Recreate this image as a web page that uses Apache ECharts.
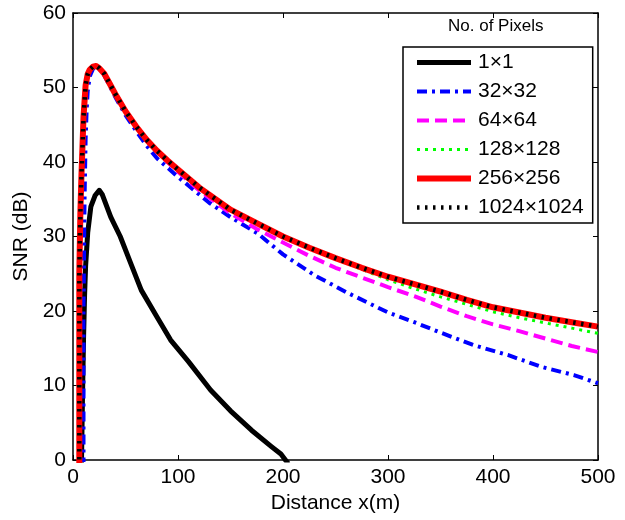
<!DOCTYPE html>
<html>
<head>
<meta charset="utf-8">
<script src="https://cdn.jsdelivr.net/npm/echarts@6/dist/echarts.min.js"></script>
<style>html,body{margin:0;padding:0;background:#fff}#c{width:625px;height:520px}</style>
</head>
<body>
<div id="c"></div>
<script>
// ---- data ----
const seriesNames = ['1\u00d71', '32\u00d732', '64\u00d764', '128\u00d7128', '256\u00d7256', '1024\u00d71024'];
const xTicks = [0, 100, 200, 300, 400, 500];
const yTicks = [0, 10, 20, 30, 40, 50, 60];

const x1 = [8, 9, 10, 11, 12, 14, 17, 21, 25, 28, 36, 45, 55, 65, 80, 93, 110, 131, 150, 170, 189, 198, 205];
const y1 = [-1, 8, 16, 22, 26, 30.5, 34, 35.5, 36.2, 35.6, 32.6, 30, 26.4, 22.8, 19.2, 16.1, 13.2, 9.4, 6.6, 4, 1.8, 0.8, -0.5];

const x32 = [10, 10, 11, 12, 13, 14, 16, 19, 22, 25, 30, 40, 50, 60, 70, 80, 100, 130, 150, 176, 200, 230, 262, 300, 325, 350, 382, 414, 446, 477, 500];
const y32 = [-1, 20, 35, 43, 47, 49.5, 51.5, 52.5, 52.8, 52.5, 51.6, 48.8, 46.3, 44.2, 42.2, 40.5, 38.0, 34.5, 32.6, 30.4, 27.6, 24.8, 22.4, 19.8, 18.5, 17.1, 15.4, 14.1, 12.5, 11.4, 10.3];

const x64 = [6, 6, 7, 8, 9, 10, 12, 14, 16, 19, 22, 25, 30, 35, 40, 50, 60, 70, 80, 90, 100, 120, 150, 175, 200, 225, 250, 275, 300, 325, 350, 375, 400, 425, 450, 475, 500];
const y64 = [-1, 25, 33, 38, 42, 46, 50.3, 51.8, 52.4, 52.8, 52.9, 52.6, 51.8, 50.5, 49.2, 46.8, 44.8, 43, 41.4, 40, 38.7, 36.2, 33.1, 31, 29.2, 27.4, 25.8, 24.5, 23.2, 22.0, 20.6, 19.3, 18.2, 17.3, 16.3, 15.3, 14.5];

const x128 = [6, 6, 7, 8, 9, 10, 12, 14, 16, 19, 22, 25, 30, 35, 40, 50, 60, 70, 80, 90, 100, 120, 150, 175, 200, 225, 250, 275, 300, 325, 350, 375, 400, 425, 450, 475, 500];
const y128 = [-1, 25, 33, 38, 42, 46, 50.3, 51.8, 52.4, 52.8, 52.9, 52.6, 51.8, 50.5, 49.2, 46.8, 44.8, 43, 41.5, 40.2, 39, 36.6, 33.6, 31.8, 30, 28.5, 27.0, 25.6, 24.2, 23.0, 21.9, 20.9, 19.9, 19.1, 18.4, 17.7, 17.0];

const x256 = [6, 6, 7, 8, 9, 10, 12, 14, 16, 19, 22, 25, 30, 35, 40, 50, 60, 70, 80, 90, 100, 120, 150, 175, 200, 225, 250, 275, 300, 325, 350, 375, 400, 425, 450, 475, 500];
const y256 = [-1, 25, 33, 38, 42, 46, 50.3, 51.8, 52.4, 52.8, 52.9, 52.6, 51.8, 50.5, 49.2, 46.8, 44.8, 43, 41.5, 40.2, 39, 36.6, 33.6, 31.8, 30, 28.5, 27.1, 25.8, 24.6, 23.6, 22.6, 21.5, 20.5, 19.8, 19.1, 18.5, 17.9];

const x1024 = x256;
const y1024 = y256;

// ---- chart ----
const FONT = '"Liberation Sans", Arial, Helvetica, sans-serif';
const zip = (xs, ys) => xs.map((x, i) => [x, ys[i]]);

const styles = [
  { color: '#000000', width: 5, type: 'solid' },
  { color: '#0000ff', width: 4, type: [10, 5, 3, 5] },
  { color: '#ff00ff', width: 4, type: [12, 6] },
  { color: '#00ff00', width: 3, type: [3, 5] },
  { color: '#ff0000', width: 6, type: 'solid' },
  { color: '#000000', width: 4.5, type: [2.5, 5.5] }
];
const dataSets = [zip(x1, y1), zip(x32, y32), zip(x64, y64), zip(x128, y128), zip(x256, y256), zip(x1024, y1024)];

const axisCommon = {
  axisLine: { show: true, onZero: false, lineStyle: { color: '#000', width: 1.5 } },
  axisTick: { show: true, inside: true, length: 5, lineStyle: { color: '#000', width: 1 } },
  splitLine: { show: false }
};

const chart = echarts.init(document.getElementById('c'), null, { renderer: 'canvas' });
chart.setOption({
  backgroundColor: '#fff',
  animation: false,
  textStyle: { fontFamily: FONT },
  grid: { left: 73, right: 27, top: 13, bottom: 60, containLabel: false },
  xAxis: [
    Object.assign({
      type: 'value', min: xTicks[0], max: xTicks[xTicks.length - 1], interval: 100,
      name: 'Distance x(m)', nameLocation: 'middle', nameGap: 29,
      nameTextStyle: { fontSize: 21, color: '#000', fontFamily: FONT },
      axisLabel: { fontSize: 21, color: '#000', margin: 7, fontFamily: FONT }
    }, axisCommon),
    Object.assign({
      type: 'value', position: 'top', min: xTicks[0], max: xTicks[xTicks.length - 1], interval: 100,
      axisLabel: { show: false }
    }, axisCommon)
  ],
  yAxis: [
    Object.assign({
      type: 'value', min: yTicks[0], max: yTicks[yTicks.length - 1], interval: 10,
      name: 'SNR (dB)', nameLocation: 'middle', nameGap: 38,
      nameTextStyle: { fontSize: 21, color: '#000', fontFamily: FONT },
      axisLabel: { fontSize: 21, color: '#000', margin: 7, fontFamily: FONT }
    }, axisCommon),
    Object.assign({
      type: 'value', position: 'right', min: yTicks[0], max: yTicks[yTicks.length - 1], interval: 10,
      axisLabel: { show: false }
    }, axisCommon)
  ],
  legend: {
    orient: 'vertical', left: 403, top: 47,
    padding: [5, 9, 5, 11],
    borderColor: '#000', borderWidth: 1.5, backgroundColor: '#fff',
    itemWidth: 54, itemHeight: 14, itemGap: 8,
    itemStyle: { opacity: 0 },
    lineStyle: { width: 'inherit' },
    textStyle: { fontSize: 21, lineHeight: 21, color: '#000', fontFamily: FONT, padding: [0, 0, 0, 2] },
    data: seriesNames
  },
  graphic: [{
    type: 'text', left: 448, top: 18,
    style: { text: 'No. of Pixels', fontSize: 17, fill: '#000', fontFamily: FONT }
  }],
  series: seriesNames.map((n, i) => ({
    name: n, type: 'line', data: dataSets[i],
    showSymbol: false, symbol: 'none', smooth: false, clip: true,
    lineStyle: { color: styles[i].color, width: styles[i].width, type: styles[i].type, cap: 'butt', join: 'round' },
    itemStyle: { color: styles[i].color },
    z: 2 + i
  }))
});
</script>
</body>
</html>
